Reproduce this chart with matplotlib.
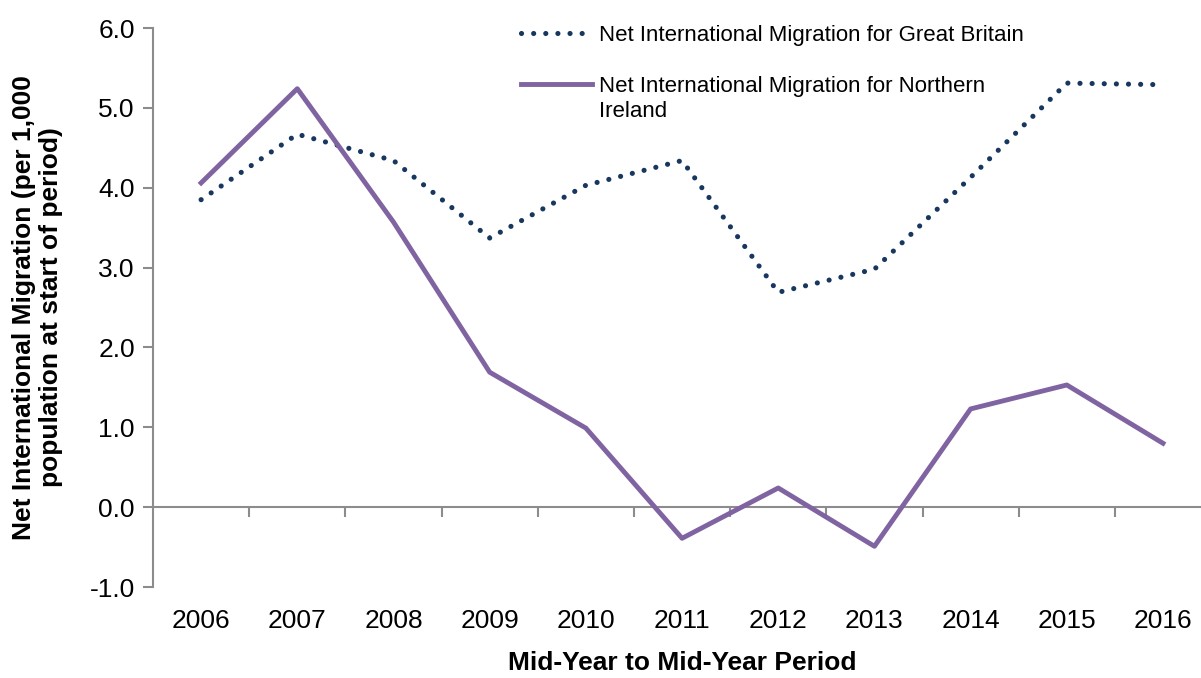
import matplotlib
matplotlib.use("Agg")
import matplotlib.pyplot as plt

plt.rcParams["font.family"] = ["Liberation Sans", "DejaVu Sans"]

# Data
years = ["2006", "2007", "2008", "2009", "2010", "2011", "2012", "2013", "2014", "2015", "2016"]
gb_values = [3.85, 4.67, 4.34, 3.37, 4.03, 4.34, 2.69, 2.98, 4.13, 5.31, 5.29]
ni_values = [4.06, 5.24, 3.57, 1.69, 0.99, -0.39, 0.24, -0.49, 1.23, 1.53, 0.80]

gb_label = "Net International Migration for Great Britain"
ni_label = "Net International Migration for Northern"
ni_label_cont = "Ireland"

axis_grey = "#8c8c8c"

fig = plt.figure(figsize=(12.01, 6.78), dpi=100)
ax = fig.add_axes([0.1274, 0.1342, 0.881, 0.8245])

x = list(range(len(years)))
ax.plot(x, gb_values, color="#17375E", linewidth=3.7,
        linestyle=(0, (0.01, 2.35)), dash_capstyle="round", label=gb_label)
ax.plot(x, ni_values, color="#8064A2", linewidth=3.5, label=ni_label)

ax.set_xlim(-0.5, len(years) - 0.5)
ax.set_ylim(-1.0, 6.0)
ax.set_yticks([-1, 0, 1, 2, 3, 4, 5, 6])
ax.set_yticklabels([f"{v:.1f}" for v in range(-1, 7)])

for side in ["top", "right", "bottom"]:
    ax.spines[side].set_visible(False)
ax.spines["left"].set_color(axis_grey)
ax.spines["left"].set_linewidth(1.5)

ax.tick_params(axis="y", direction="out", length=7, width=1.5, color=axis_grey,
               labelsize=19, pad=6)
ax.set_xticks(x)
ax.set_xticklabels(years)
ax.tick_params(axis="x", length=0, labelsize=19, pad=16)

# x axis line crossing at zero, ticks between categories
sec = ax.secondary_xaxis(1 / 7)
sec.spines["bottom"].set_color(axis_grey)
sec.spines["bottom"].set_linewidth(1.5)
sec.set_xticks([i + 0.5 for i in range(len(years) - 1)])
sec.tick_params(direction="out", length=7, width=1.5, color=axis_grey, labelbottom=False)

ax.set_xlabel("Mid-Year to Mid-Year Period", fontsize=19, fontweight="bold", labelpad=13)
ax.set_ylabel("Net International Migration (per 1,000\npopulation at start of period)",
              fontsize=19, fontweight="bold", labelpad=19, linespacing=1.15)

leg = ax.legend(loc="upper left", bbox_to_anchor=(0.417, 0.993), bbox_transform=fig.transFigure,
                frameon=False, fontsize=16, handlelength=3.2, handletextpad=0.3,
                labelspacing=1.35)

# second legend entry wraps onto a second line below its first line
fig.canvas.draw()
bb = leg.get_texts()[1].get_window_extent()
x0, y0 = fig.transFigure.inverted().transform((bb.x0, bb.y0))
fig.text(x0, y0 - 0.006, ni_label_cont, fontsize=16, ha="left", va="top")

fig.savefig("out.png", dpi=100)
